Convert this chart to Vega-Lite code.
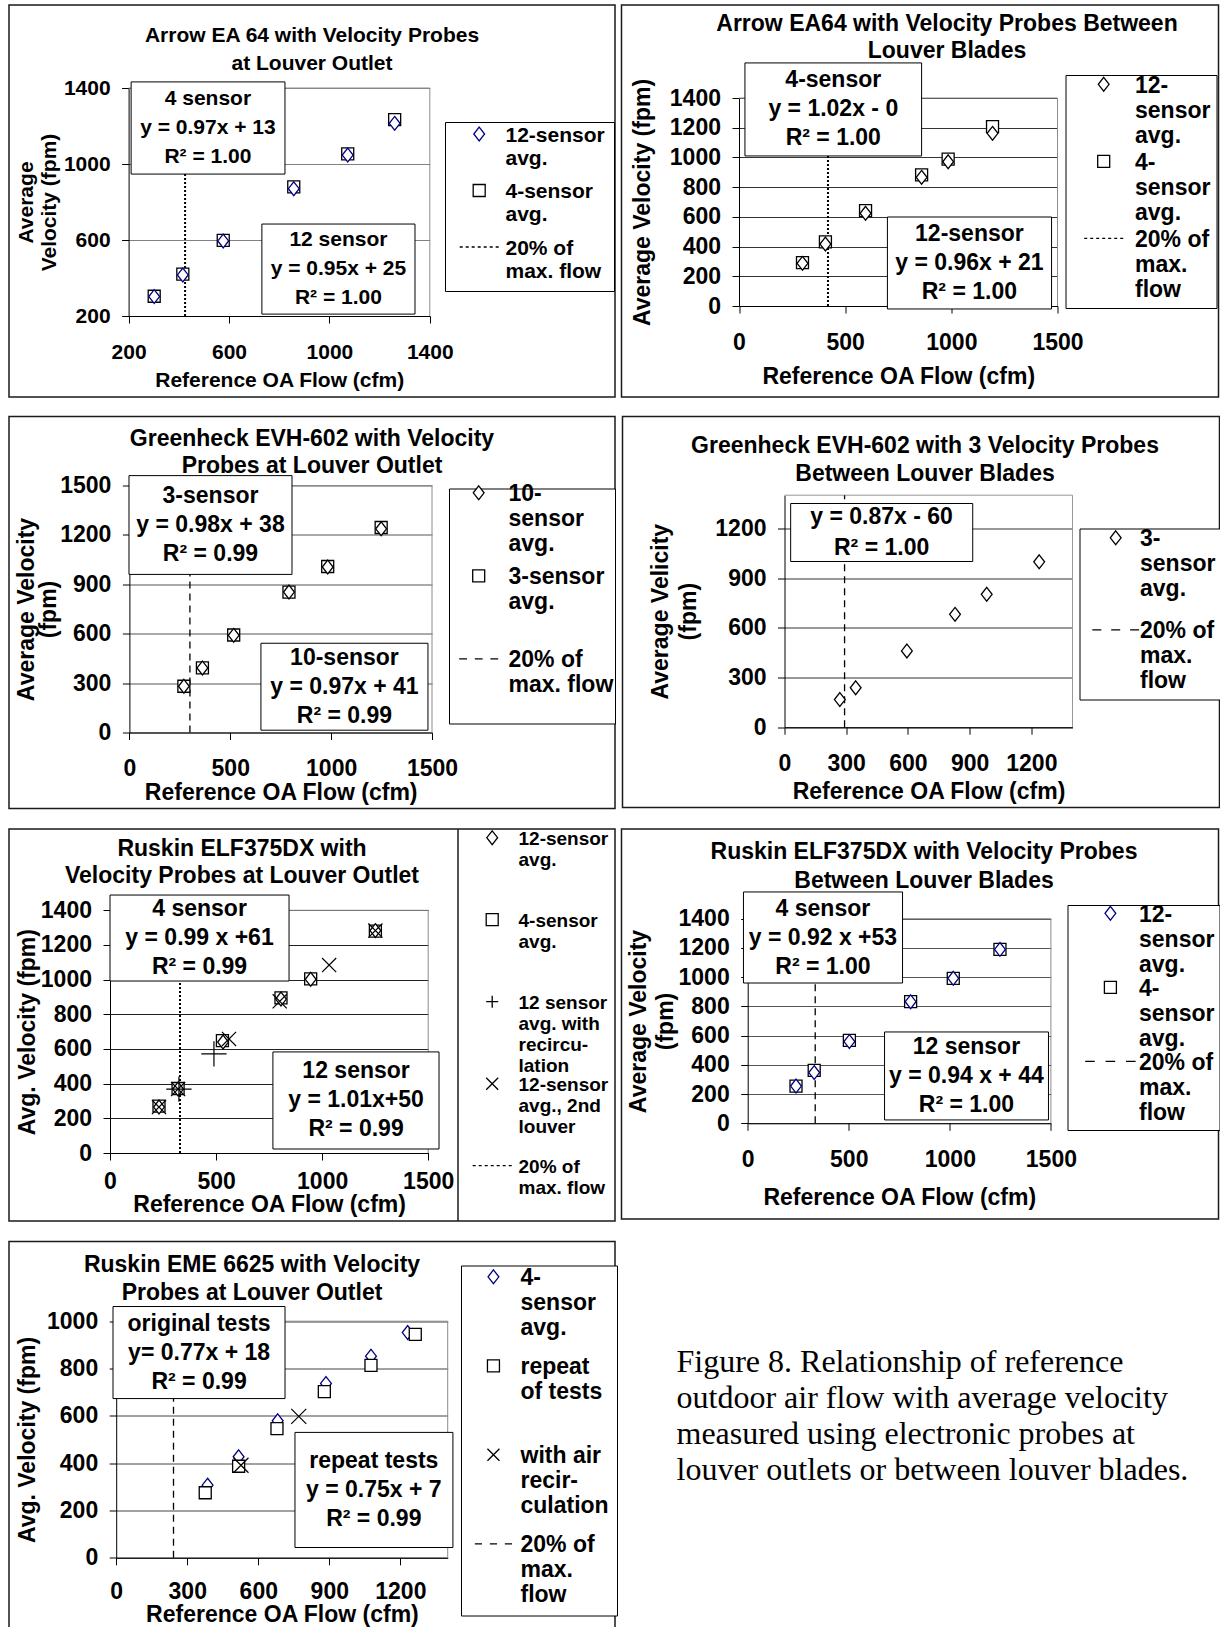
{
  "$schema": "https://vega.github.io/schema/vega-lite/v6.json",
  "padding": {"left": 8, "top": 4, "right": 0, "bottom": 0},
  "background": "white",
  "spacing": 17.5,
  "resolve": {"scale": {"shape": "independent", "color": "independent"}, "legend": {"shape": "independent", "color": "independent"}},
  "config": {
    "background": "white",
    "font": "Liberation Sans",
    "view": {"stroke": "#1a1a1a", "strokeWidth": 1.5},
    "title": {"font": "Liberation Sans", "fontSize": 23, "fontWeight": "bold", "color": "black", "anchor": "middle", "frame": "group", "baseline": "top", "lineHeight": 28},
    "axis": {"labelFont": "Liberation Sans", "labelFontSize": 23, "labelFontWeight": "bold", "labelColor": "black", "titleFont": "Liberation Sans", "titleFontSize": 23, "titleFontWeight": "bold", "titleColor": "black", "domainColor": "black", "domainWidth": 1, "tickColor": "black", "tickWidth": 1, "tickSize": 7, "labelFlush": false, "labelOverlap": false, "labelBound": false, "gridWidth": 1, "gridOpacity": 1, "format": "d"},
    "axisX": {"grid": false, "labelPadding": 18, "labelAngle": 0},
    "axisY": {"grid": true, "labelPadding": 11.5, "gridColor": "#555555"},
    "legend": {"labelFont": "Liberation Sans", "labelFontSize": 23, "labelFontWeight": "bold", "labelColor": "black", "labelLimit": 300, "labelBaseline": "alphabetic", "title": null, "orient": "none", "symbolSize": 144, "symbolStrokeWidth": 1.3, "symbolFillColor": "white"},
    "text": {"font": "Liberation Sans", "fontSize": 23, "fontWeight": "bold", "color": "black", "align": "center", "baseline": "middle", "lineHeight": 29},
    "point": {"filled": false, "fill": "white", "opacity": 1, "strokeWidth": 1.3, "size": 144}
  },
  "datasets": {
    "p1": [
      {"flow": 302, "velocity": 304, "series": "4-sensor avg."},
      {"flow": 416, "velocity": 420, "series": "4-sensor avg."},
      {"flow": 577, "velocity": 598, "series": "4-sensor avg."},
      {"flow": 858, "velocity": 880, "series": "4-sensor avg."},
      {"flow": 1073, "velocity": 1053, "series": "4-sensor avg."},
      {"flow": 1260, "velocity": 1234, "series": "4-sensor avg."},
      {"flow": 302, "velocity": 302, "series": "12-sensor avg."},
      {"flow": 416, "velocity": 416, "series": "12-sensor avg."},
      {"flow": 577, "velocity": 595, "series": "12-sensor avg."},
      {"flow": 858, "velocity": 870, "series": "12-sensor avg."},
      {"flow": 1073, "velocity": 1047, "series": "12-sensor avg."},
      {"flow": 1260, "velocity": 1214, "series": "12-sensor avg."},
      {"flow": 425, "series": "20% of max. flow"}
    ],
    "p2": [
      {"flow": 299, "velocity": 292, "series": "4-sensor avg."},
      {"flow": 407, "velocity": 432, "series": "4-sensor avg."},
      {"flow": 596, "velocity": 642, "series": "4-sensor avg."},
      {"flow": 860, "velocity": 882, "series": "4-sensor avg."},
      {"flow": 985, "velocity": 989, "series": "4-sensor avg."},
      {"flow": 1194, "velocity": 1207, "series": "4-sensor avg."},
      {"flow": 299, "velocity": 287, "series": "12-sensor avg."},
      {"flow": 407, "velocity": 417, "series": "12-sensor avg."},
      {"flow": 596, "velocity": 624, "series": "12-sensor avg."},
      {"flow": 860, "velocity": 866, "series": "12-sensor avg."},
      {"flow": 985, "velocity": 971, "series": "12-sensor avg."},
      {"flow": 1194, "velocity": 1162, "series": "12-sensor avg."},
      {"flow": 419, "series": "20% of max. flow"}
    ],
    "p3": [
      {"flow": 270, "velocity": 281, "series": "3-sensor avg."},
      {"flow": 362, "velocity": 392, "series": "3-sensor avg."},
      {"flow": 517, "velocity": 592, "series": "3-sensor avg."},
      {"flow": 791, "velocity": 853, "series": "3-sensor avg."},
      {"flow": 983, "velocity": 1008, "series": "3-sensor avg."},
      {"flow": 1248, "velocity": 1245, "series": "3-sensor avg."},
      {"flow": 270, "velocity": 281, "series": "10-sensor avg."},
      {"flow": 362, "velocity": 392, "series": "10-sensor avg."},
      {"flow": 517, "velocity": 590, "series": "10-sensor avg."},
      {"flow": 791, "velocity": 853, "series": "10-sensor avg."},
      {"flow": 983, "velocity": 1005, "series": "10-sensor avg."},
      {"flow": 1248, "velocity": 1237, "series": "10-sensor avg."},
      {"flow": 300, "series": "20% of max. flow"}
    ],
    "p4": [
      {"flow": 269, "velocity": 167, "series": "3-sensor avg."},
      {"flow": 346, "velocity": 238, "series": "3-sensor avg."},
      {"flow": 595, "velocity": 460, "series": "3-sensor avg."},
      {"flow": 829, "velocity": 681, "series": "3-sensor avg."},
      {"flow": 983, "velocity": 802, "series": "3-sensor avg."},
      {"flow": 1238, "velocity": 998, "series": "3-sensor avg."},
      {"flow": 292, "series": "20% of max. flow"}
    ],
    "p5": [
      {"flow": 231, "velocity": 270, "series": "4-sensor avg."},
      {"flow": 321, "velocity": 372, "series": "4-sensor avg."},
      {"flow": 530, "velocity": 648, "series": "4-sensor avg."},
      {"flow": 806, "velocity": 895, "series": "4-sensor avg."},
      {"flow": 946, "velocity": 1005, "series": "4-sensor avg."},
      {"flow": 1251, "velocity": 1280, "series": "4-sensor avg."},
      {"flow": 231, "velocity": 265, "series": "12-sensor avg."},
      {"flow": 321, "velocity": 369, "series": "12-sensor avg."},
      {"flow": 533, "velocity": 640, "series": "12-sensor avg."},
      {"flow": 806, "velocity": 888, "series": "12-sensor avg."},
      {"flow": 946, "velocity": 1002, "series": "12-sensor avg."},
      {"flow": 1251, "velocity": 1283, "series": "12-sensor avg."},
      {"flow": 231, "velocity": 265, "series": "12-sensor avg., 2nd louver"},
      {"flow": 321, "velocity": 369, "series": "12-sensor avg., 2nd louver"},
      {"flow": 561, "velocity": 658, "series": "12-sensor avg., 2nd louver"},
      {"flow": 800, "velocity": 875, "series": "12-sensor avg., 2nd louver"},
      {"flow": 1033, "velocity": 1084, "series": "12-sensor avg., 2nd louver"},
      {"flow": 1251, "velocity": 1283, "series": "12-sensor avg., 2nd louver"},
      {"flow": 325, "velocity": 369, "series": "12 sensor avg. with recirculation"},
      {"flow": 490, "velocity": 572, "series": "12 sensor avg. with recirculation"},
      {"flow": 330, "series": "20% of max. flow"}
    ],
    "p6": [
      {"flow": 239, "velocity": 255, "series": "4-sensor avg."},
      {"flow": 329, "velocity": 362, "series": "4-sensor avg."},
      {"flow": 503, "velocity": 568, "series": "4-sensor avg."},
      {"flow": 806, "velocity": 832, "series": "4-sensor avg."},
      {"flow": 1017, "velocity": 992, "series": "4-sensor avg."},
      {"flow": 1248, "velocity": 1190, "series": "4-sensor avg."},
      {"flow": 239, "velocity": 255, "series": "12-sensor avg."},
      {"flow": 329, "velocity": 347, "series": "12-sensor avg."},
      {"flow": 503, "velocity": 559, "series": "12-sensor avg."},
      {"flow": 806, "velocity": 832, "series": "12-sensor avg."},
      {"flow": 1017, "velocity": 992, "series": "12-sensor avg."},
      {"flow": 1248, "velocity": 1190, "series": "12-sensor avg."},
      {"flow": 334, "series": "20% of max. flow"}
    ],
    "p7": [
      {"flow": 386, "velocity": 307, "series": "4-sensor avg."},
      {"flow": 517, "velocity": 427, "series": "4-sensor avg."},
      {"flow": 682, "velocity": 579, "series": "4-sensor avg."},
      {"flow": 886, "velocity": 737, "series": "4-sensor avg."},
      {"flow": 1076, "velocity": 852, "series": "4-sensor avg."},
      {"flow": 1231, "velocity": 952, "series": "4-sensor avg."},
      {"flow": 376, "velocity": 275, "series": "repeat of tests"},
      {"flow": 517, "velocity": 387, "series": "repeat of tests"},
      {"flow": 679, "velocity": 546, "series": "repeat of tests"},
      {"flow": 879, "velocity": 702, "series": "repeat of tests"},
      {"flow": 1076, "velocity": 813, "series": "repeat of tests"},
      {"flow": 1263, "velocity": 944, "series": "repeat of tests"},
      {"flow": 527, "velocity": 391, "series": "with air recirculation"},
      {"flow": 771, "velocity": 598, "series": "with air recirculation"},
      {"flow": 242, "series": "20% of max. flow"}
    ]
  },
  "vconcat": [
    {
      "hconcat": [
        {
          "width": 606, "height": 392,
          "title": {"text": ["Arrow EA 64 with Velocity Probes", "at Louver Outlet"], "offset": -68.6, "lineHeight": 28, "fontSize": 21},
          "data": {"name": "p1"},
          "resolve": {"scale": {"shape": "independent", "color": "independent"}, "legend": {"shape": "independent", "color": "independent"}},
          "layer": [
            {"data": {"values": [{}]}, "mark": {"type": "rule", "color": "#8c8c8c", "strokeWidth": 1},
             "encoding": {
               "x": {"datum": 200, "type": "quantitative", "scale": {"domain": [200, 1400], "range": [119.6, 420.8], "nice": false, "zero": false}, "axis": {"values": [200, 600, 1000, 1400], "offset": -81, "title": "Reference OA Flow  (cfm)", "titlePadding": 7, "labelFontSize": 21, "titleFontSize": 21}},
               "x2": {"datum": 1400},
               "y": {"datum": 1400, "type": "quantitative", "scale": {"domain": [200, 1400], "range": [311, 83], "nice": false, "zero": false}, "axis": {"values": [200, 600, 1000, 1400], "offset": -119.6, "title": ["Average", "Velocity (fpm)"], "titleLineHeight": 23, "titlePadding": 4, "gridColor": "#808080", "labelFontSize": 21, "titleFontSize": 21}}
             }},
            {"data": {"values": [{}]}, "mark": {"type": "rule", "color": "#8c8c8c", "strokeWidth": 1},
             "encoding": {"x": {"datum": 1400, "type": "quantitative"}, "y": {"datum": 200, "type": "quantitative"}, "y2": {"datum": 1400}}},
            {"transform": [{"filter": "datum.series === '20% of max. flow'"}], "mark": {"type": "rule", "color": "black", "strokeWidth": 2, "strokeDash": [2, 2]},
             "encoding": {"x": {"field": "flow", "type": "quantitative"}, "y": {"datum": 200, "type": "quantitative"}, "y2": {"datum": 1400}}},
            {"data": {"values": [{}]}, "mark": {"type": "rect", "fill": "white", "stroke": "black", "strokeWidth": 1},
             "encoding": {"x": {"datum": 210, "type": "quantitative"}, "x2": {"datum": 823}, "y": {"datum": 947, "type": "quantitative"}, "y2": {"datum": 1432}}},
            {"data": {"values": [{}]}, "mark": {"type": "text", "dy": -29, "fontSize": 21},
             "encoding": {"x": {"datum": 516, "type": "quantitative"}, "y": {"datum": 1190, "type": "quantitative"}, "text": {"value": ["4 sensor", "y = 0.97x + 13", "R² = 1.00"]}}},
            {"data": {"values": [{}]}, "mark": {"type": "rect", "fill": "white", "stroke": "black", "strokeWidth": 1},
             "encoding": {"x": {"datum": 731, "type": "quantitative"}, "x2": {"datum": 1341}, "y": {"datum": 210, "type": "quantitative"}, "y2": {"datum": 684}}},
            {"data": {"values": [{}]}, "mark": {"type": "text", "dy": -29, "fontSize": 21},
             "encoding": {"x": {"datum": 1036, "type": "quantitative"}, "y": {"datum": 447, "type": "quantitative"}, "text": {"value": ["12 sensor", "y = 0.95x + 25", "R² = 1.00"]}}},
            {"transform": [{"filter": "datum.series !== '20% of max. flow'"}],
             "mark": {"type": "point"},
             "encoding": {
               "x": {"field": "flow", "type": "quantitative"},
               "y": {"field": "velocity", "type": "quantitative"},
               "shape": {"field": "series", "type": "nominal", "legend": null,
                 "scale": {"domain": ["12-sensor avg.", "4-sensor avg."], "range": ["M0,-1.15L0.9,0L0,1.15L-0.9,0Z", "M-1,-1H1V1H-1Z"]}},
               "color": {"field": "series", "type": "nominal", "legend": null,
                 "scale": {"domain": ["12-sensor avg.", "4-sensor avg."], "range": ["#000080", "black"]}}
             }},
            {"data": {"values": []}, "mark": {"type": "point"},
             "encoding": {
               "shape": {"field": "series", "type": "nominal",
                 "scale": {"domain": ["12-sensor avg.", "4-sensor avg.", "20% of max. flow"], "range": ["M0,-2.4L0.9,-1.25L0,-0.1L-0.9,-1.25Z", "M-1,-2.25H1V-0.25H-1Z", "M-3.25,-1.25H-2.75M-2.25,-1.25H-1.75M-1.25,-1.25H-0.75M-0.25,-1.25H0.25M0.75,-1.25H1.25M1.75,-1.25H2.25M2.75,-1.25H3.25"]},
                 "legend": {"legendX": 436, "legendY": 117, "padding": 9, "strokeColor": "black", "fillColor": "white", "symbolOffset": 14.7, "labelOffset": 15.8, "rowPadding": 11.5, "labelFontSize": 21,
                   "labelExpr": "datum.label == '12-sensor avg.' ? ['12-sensor','avg.'] : datum.label == '4-sensor avg.' ? ['4-sensor','avg.'] : ['20% of','max. flow']"}},
               "color": {"field": "series", "type": "nominal",
                 "scale": {"domain": ["12-sensor avg.", "4-sensor avg.", "20% of max. flow"], "range": ["#000080", "black", "black"]},
                 "legend": {"legendX": 436, "legendY": 117, "padding": 9, "strokeColor": "black", "fillColor": "white", "symbolOffset": 14.7, "labelOffset": 15.8, "rowPadding": 11.5, "labelFontSize": 21,
                   "labelExpr": "datum.label == '12-sensor avg.' ? ['12-sensor','avg.'] : datum.label == '4-sensor avg.' ? ['4-sensor','avg.'] : ['20% of','max. flow']"}}
             }}
          ]
        },
        {
          "width": 597, "height": 392,
          "title": {"text": ["Arrow EA64 with  Velocity Probes Between", "Louver Blades"], "offset": -57.6, "dx": 27, "lineHeight": 27},
          "data": {"name": "p2"},
          "resolve": {"scale": {"shape": "independent", "color": "independent"}, "legend": {"shape": "independent", "color": "independent"}},
          "layer": [
            {"data": {"values": [{}]}, "mark": {"type": "rule", "color": "#8c8c8c", "strokeWidth": 1},
             "encoding": {
               "x": {"datum": 0, "type": "quantitative", "scale": {"domain": [0, 1500], "range": [117.5, 436], "nice": false, "zero": false}, "axis": {"values": [0, 500, 1000, 1500], "offset": -91, "title": "Reference OA Flow (cfm)", "titlePadding": 11}},
               "x2": {"datum": 1500},
               "y": {"datum": 1400, "type": "quantitative", "scale": {"domain": [0, 1400], "range": [301, 93], "nice": false, "zero": false}, "axis": {"values": [0, 200, 400, 600, 800, 1000, 1200, 1400], "offset": -117.5, "title": "Average Velocity (fpm)", "titlePadding": 15, "gridColor": "#333333"}}
             }},
            {"data": {"values": [{}]}, "mark": {"type": "rule", "color": "#8c8c8c", "strokeWidth": 1},
             "encoding": {"x": {"datum": 1500, "type": "quantitative"}, "y": {"datum": 0, "type": "quantitative"}, "y2": {"datum": 1400}}},
            {"transform": [{"filter": "datum.series === '20% of max. flow'"}], "mark": {"type": "rule", "color": "black", "strokeWidth": 2, "strokeDash": [2, 2]},
             "encoding": {"x": {"field": "flow", "type": "quantitative"}, "y": {"datum": 0, "type": "quantitative"}, "y2": {"datum": 1400}}},
            {"data": {"values": [{}]}, "mark": {"type": "rect", "fill": "white", "stroke": "black", "strokeWidth": 1},
             "encoding": {"x": {"datum": 28, "type": "quantitative"}, "x2": {"datum": 860}, "y": {"datum": 1010, "type": "quantitative"}, "y2": {"datum": 1636}}},
            {"data": {"values": [{}]}, "mark": {"type": "text", "dy": -29},
             "encoding": {"x": {"datum": 444, "type": "quantitative"}, "y": {"datum": 1323, "type": "quantitative"}, "text": {"value": ["4-sensor", "y = 1.02x - 0", "R² = 1.00"]}}},
            {"data": {"values": [{}]}, "mark": {"type": "rect", "fill": "white", "stroke": "black", "strokeWidth": 1},
             "encoding": {"x": {"datum": 699, "type": "quantitative"}, "x2": {"datum": 1472}, "y": {"datum": -20, "type": "quantitative"}, "y2": {"datum": 599}}},
            {"data": {"values": [{}]}, "mark": {"type": "text", "dy": -29},
             "encoding": {"x": {"datum": 1085, "type": "quantitative"}, "y": {"datum": 290, "type": "quantitative"}, "text": {"value": ["12-sensor", "y = 0.96x + 21", "R² = 1.00"]}}},
            {"transform": [{"filter": "datum.series !== '20% of max. flow'"}],
             "mark": {"type": "point"},
             "encoding": {
               "x": {"field": "flow", "type": "quantitative"},
               "y": {"field": "velocity", "type": "quantitative"},
               "shape": {"field": "series", "type": "nominal", "legend": null,
                 "scale": {"domain": ["12-sensor avg.", "4-sensor avg."], "range": ["M0,-1.15L0.9,0L0,1.15L-0.9,0Z", "M-1,-1H1V1H-1Z"]}},
               "color": {"field": "series", "type": "nominal", "legend": null,
                 "scale": {"domain": ["12-sensor avg.", "4-sensor avg."], "range": ["black", "black"]}}
             }},
            {"data": {"values": []}, "mark": {"type": "point"},
             "encoding": {
               "shape": {"field": "series", "type": "nominal",
                 "scale": {"domain": ["12-sensor avg.", "4-sensor avg.", "20% of max. flow"], "range": ["M0,-2.52L0.9,-1.37L0,-0.22L-0.9,-1.37Z", "M-1,-2.37H1V-0.37H-1Z", "M-3.25,-1.37H-2.75M-2.25,-1.37H-1.75M-1.25,-1.37H-0.75M-0.25,-1.37H0.25M0.75,-1.37H1.25M1.75,-1.37H2.25M2.75,-1.37H3.25"]},
                 "legend": {"legendX": 444, "legendY": 70, "padding": 6, "strokeColor": "black", "fillColor": "white", "symbolOffset": 20.7, "labelOffset": 19.8, "rowPadding": 3,
                   "labelExpr": "datum.label == '12-sensor avg.' ? ['12-','sensor','avg.'] : datum.label == '4-sensor avg.' ? ['4-','sensor','avg.'] : ['20% of','max.','flow']"}},
               "color": {"field": "series", "type": "nominal",
                 "scale": {"domain": ["12-sensor avg.", "4-sensor avg.", "20% of max. flow"], "range": ["black", "black", "black"]},
                 "legend": {"legendX": 444, "legendY": 70, "padding": 6, "strokeColor": "black", "fillColor": "white", "symbolOffset": 20.7, "labelOffset": 19.8, "rowPadding": 3,
                   "labelExpr": "datum.label == '12-sensor avg.' ? ['12-','sensor','avg.'] : datum.label == '4-sensor avg.' ? ['4-','sensor','avg.'] : ['20% of','max.','flow']"}}
             }}
          ]
        }
      ],
      "spacing": 4.5,
      "resolve": {"scale": {"shape": "independent", "color": "independent"}, "legend": {"shape": "independent", "color": "independent"}}
    },
    {
      "hconcat": [
        {
          "width": 606, "height": 392,
          "title": {"text": ["Greenheck EVH-602 with Velocity", "Probes at Louver Outlet"], "offset": -61.6, "lineHeight": 27},
          "data": {"name": "p3"},
          "resolve": {"scale": {"shape": "independent", "color": "independent"}, "legend": {"shape": "independent", "color": "independent"}},
          "layer": [
            {"data": {"values": [{}]}, "mark": {"type": "rule", "color": "#8c8c8c", "strokeWidth": 1},
             "encoding": {
               "x": {"datum": 0, "type": "quantitative", "scale": {"domain": [0, 1500], "range": [120.4, 423], "nice": false, "zero": false}, "axis": {"values": [0, 500, 1000, 1500], "offset": -76, "title": "Reference OA Flow (cfm)", "titlePadding": 1}},
               "x2": {"datum": 1500},
               "y": {"datum": 1500, "type": "quantitative", "scale": {"domain": [0, 1500], "range": [316, 69], "nice": false, "zero": false}, "axis": {"values": [0, 300, 600, 900, 1200, 1500], "offset": -120.4, "title": ["Average Velocity", "(fpm)"], "titleLineHeight": 22, "titlePadding": -1, "gridColor": "#555555"}}
             }},
            {"data": {"values": [{}]}, "mark": {"type": "rule", "color": "#8c8c8c", "strokeWidth": 1},
             "encoding": {"x": {"datum": 1500, "type": "quantitative"}, "y": {"datum": 0, "type": "quantitative"}, "y2": {"datum": 1500}}},
            {"transform": [{"filter": "datum.series === '20% of max. flow'"}], "mark": {"type": "rule", "color": "black", "strokeWidth": 1.3, "strokeDash": [7, 5]},
             "encoding": {"x": {"field": "flow", "type": "quantitative"}, "y": {"datum": 0, "type": "quantitative"}, "y2": {"datum": 1500}}},
            {"data": {"values": [{}]}, "mark": {"type": "rect", "fill": "white", "stroke": "black", "strokeWidth": 1},
             "encoding": {"x": {"datum": -2, "type": "quantitative"}, "x2": {"datum": 806}, "y": {"datum": 960, "type": "quantitative"}, "y2": {"datum": 1560}}},
            {"data": {"values": [{}]}, "mark": {"type": "text", "dy": -29},
             "encoding": {"x": {"datum": 402, "type": "quantitative"}, "y": {"datum": 1260, "type": "quantitative"}, "text": {"value": ["3-sensor", "y = 0.98x + 38", "R² = 0.99"]}}},
            {"data": {"values": [{}]}, "mark": {"type": "rect", "fill": "white", "stroke": "black", "strokeWidth": 1},
             "encoding": {"x": {"datum": 652, "type": "quantitative"}, "x2": {"datum": 1480}, "y": {"datum": 14, "type": "quantitative"}, "y2": {"datum": 542}}},
            {"data": {"values": [{}]}, "mark": {"type": "text", "dy": -29},
             "encoding": {"x": {"datum": 1066, "type": "quantitative"}, "y": {"datum": 278, "type": "quantitative"}, "text": {"value": ["10-sensor", "y = 0.97x + 41", "R² = 0.99"]}}},
            {"transform": [{"filter": "datum.series !== '20% of max. flow'"}],
             "mark": {"type": "point"},
             "encoding": {
               "x": {"field": "flow", "type": "quantitative"},
               "y": {"field": "velocity", "type": "quantitative"},
               "shape": {"field": "series", "type": "nominal", "legend": null,
                 "scale": {"domain": ["10-sensor avg.", "3-sensor avg."], "range": ["M0,-1.15L0.9,0L0,1.15L-0.9,0Z", "M-1,-1H1V1H-1Z"]}},
               "color": {"field": "series", "type": "nominal", "legend": null,
                 "scale": {"domain": ["10-sensor avg.", "3-sensor avg."], "range": ["black", "black"]}}
             }},
            {"data": {"values": []}, "mark": {"type": "point"},
             "encoding": {
               "shape": {"field": "series", "type": "nominal",
                 "scale": {"domain": ["10-sensor avg.", "3-sensor avg.", "20% of max. flow"], "range": ["M0,-2.52L0.9,-1.37L0,-0.22L-0.9,-1.37Z", "M-1,-2.37H1V-0.37H-1Z", "M-3.25,-1.37H-1.95M-0.65,-1.37H0.65M1.95,-1.37H3.25"]},
                 "legend": {"legendX": 440, "legendY": 72, "padding": 1, "strokeColor": "black", "fillColor": "white", "symbolOffset": 17.2, "labelOffset": 18.3, "rowPadding": 9,
                   "labelExpr": "datum.label == '10-sensor avg.' ? ['10-','sensor','avg.'] : datum.label == '3-sensor avg.' ? ['3-sensor','avg.',''] : ['20% of','max. flow','']"}},
               "color": {"field": "series", "type": "nominal",
                 "scale": {"domain": ["10-sensor avg.", "3-sensor avg.", "20% of max. flow"], "range": ["black", "black", "black"]},
                 "legend": {"legendX": 440, "legendY": 72, "padding": 1, "strokeColor": "black", "fillColor": "white", "symbolOffset": 17.2, "labelOffset": 18.3, "rowPadding": 9,
                   "labelExpr": "datum.label == '10-sensor avg.' ? ['10-','sensor','avg.'] : datum.label == '3-sensor avg.' ? ['3-sensor','avg.',''] : ['20% of','max. flow','']"}}
             }}
          ]
        },
        {
          "width": 597, "height": 391,
          "title": {"text": ["Greenheck EVH-602 with 3 Velocity Probes", "Between Louver Blades"], "offset": -69.6, "dx": 4, "lineHeight": 28},
          "data": {"name": "p4"},
          "resolve": {"scale": {"shape": "independent", "color": "independent"}, "legend": {"shape": "independent", "color": "independent"}},
          "layer": [
            {"data": {"values": [{}]}, "mark": {"type": "rule", "color": "#999999", "strokeWidth": 1},
             "encoding": {
               "x": {"datum": 0, "type": "quantitative", "scale": {"domain": [0, 1400], "range": [162, 450], "nice": false, "zero": false}, "axis": {"values": [0, 300, 600, 900, 1200], "offset": -80.3, "title": "Reference OA Flow (cfm)", "titlePadding": 5}},
               "x2": {"datum": 1400},
               "y": {"datum": 1400, "type": "quantitative", "scale": {"domain": [0, 1400], "range": [310.7, 78.7], "nice": false, "zero": false}, "axis": {"values": [0, 300, 600, 900, 1200], "offset": -162, "title": ["Average Velicity", "(fpm)"], "titleLineHeight": 28, "titlePadding": 14, "gridColor": "#333333"}}
             }},
            {"data": {"values": [{}]}, "mark": {"type": "rule", "color": "#999999", "strokeWidth": 1},
             "encoding": {"x": {"datum": 1400, "type": "quantitative"}, "y": {"datum": 0, "type": "quantitative"}, "y2": {"datum": 1400}}},
            {"transform": [{"filter": "datum.series === '20% of max. flow'"}], "mark": {"type": "rule", "color": "black", "strokeWidth": 1.3, "strokeDash": [7, 5]},
             "encoding": {"x": {"field": "flow", "type": "quantitative"}, "y": {"datum": 0, "type": "quantitative"}, "y2": {"datum": 1400}}},
            {"data": {"values": [{}]}, "mark": {"type": "rect", "fill": "white", "stroke": "black", "strokeWidth": 1},
             "encoding": {"x": {"datum": 30, "type": "quantitative"}, "x2": {"datum": 915}, "y": {"datum": 1000, "type": "quantitative"}, "y2": {"datum": 1350}}},
            {"data": {"values": [{}]}, "mark": {"type": "text", "lineHeight": 31, "dy": -15.5},
             "encoding": {"x": {"datum": 472, "type": "quantitative"}, "y": {"datum": 1175, "type": "quantitative"}, "text": {"value": ["y = 0.87x - 60", "R² = 1.00"]}}},
            {"transform": [{"filter": "datum.series !== '20% of max. flow'"}],
             "mark": {"type": "point"},
             "encoding": {
               "x": {"field": "flow", "type": "quantitative"},
               "y": {"field": "velocity", "type": "quantitative"},
               "shape": {"field": "series", "type": "nominal", "legend": null,
                 "scale": {"domain": ["3-sensor avg."], "range": ["M0,-1.15L0.9,0L0,1.15L-0.9,0Z"]}},
               "color": {"field": "series", "type": "nominal", "legend": null,
                 "scale": {"domain": ["3-sensor avg."], "range": ["black"]}}
             }},
            {"data": {"values": []}, "mark": {"type": "point"},
             "encoding": {
               "shape": {"field": "series", "type": "nominal",
                 "scale": {"domain": ["3-sensor avg.", "20% of max. flow"], "range": ["M0,-2.52L0.9,-1.37L0,-0.22L-0.9,-1.37Z", "M-3.9,-1.37H-2.4M-0.75,-1.37H0.75M2.4,-1.37H3.9"]},
                 "legend": {"legendX": 457, "legendY": 112, "padding": 6, "strokeColor": "black", "fillColor": "white", "symbolOffset": 18.7, "labelOffset": 12.8, "rowPadding": 18,
                   "labelExpr": "datum.label == '3-sensor avg.' ? ['3-','sensor','avg.'] : ['20% of','max.','flow']"}},
               "color": {"field": "series", "type": "nominal",
                 "scale": {"domain": ["3-sensor avg.", "20% of max. flow"], "range": ["black", "black"]},
                 "legend": {"legendX": 457, "legendY": 112, "padding": 6, "strokeColor": "black", "fillColor": "white", "symbolOffset": 18.7, "labelOffset": 12.8, "rowPadding": 18,
                   "labelExpr": "datum.label == '3-sensor avg.' ? ['3-','sensor','avg.'] : ['20% of','max.','flow']"}}
             }}
          ]
        }
      ],
      "spacing": 4.5,
      "resolve": {"scale": {"shape": "independent", "color": "independent"}, "legend": {"shape": "independent", "color": "independent"}}
    },
    {
      "hconcat": [
        {
          "width": 606, "height": 392,
          "title": {"text": ["Ruskin ELF375DX with", "Velocity Probes at Louver Outlet"], "offset": -59.6, "dx": -70, "lineHeight": 27},
          "data": {"name": "p5"},
          "resolve": {"scale": {"shape": "independent", "color": "independent"}, "legend": {"shape": "independent", "color": "independent"}},
          "layer": [
            {"data": {"values": [{}]}, "mark": {"type": "rule", "color": "#8c8c8c", "strokeWidth": 1},
             "encoding": {
               "x": {"datum": 0, "type": "quantitative", "scale": {"domain": [0, 1500], "range": [101, 419.2], "nice": false, "zero": false}, "axis": {"values": [0, 500, 1000, 1500], "offset": -68, "labelPadding": 10, "title": "Reference OA Flow (cfm)", "titlePadding": 0}},
               "x2": {"datum": 1500},
               "y": {"datum": 1400, "type": "quantitative", "scale": {"domain": [0, 1400], "range": [324, 81.3], "nice": false, "zero": false}, "axis": {"values": [0, 200, 400, 600, 800, 1000, 1200, 1400], "offset": -101, "title": "Avg. Velocity (fpm)", "titlePadding": 1, "gridColor": "#222222"}}
             }},
            {"data": {"values": [{}]}, "mark": {"type": "rule", "color": "#8c8c8c", "strokeWidth": 1},
             "encoding": {"x": {"datum": 1500, "type": "quantitative"}, "y": {"datum": 0, "type": "quantitative"}, "y2": {"datum": 1400}}},
            {"data": {"values": [{}]}, "mark": {"type": "rule", "color": "#1a1a1a", "strokeWidth": 1.5},
             "encoding": {"x": {"datum": 1640.5, "type": "quantitative"}, "y": {"datum": -392, "type": "quantitative"}, "y2": {"datum": 1869}}},
            {"transform": [{"filter": "datum.series === '20% of max. flow'"}], "mark": {"type": "rule", "color": "black", "strokeWidth": 2, "strokeDash": [2, 2]},
             "encoding": {"x": {"field": "flow", "type": "quantitative"}, "y": {"datum": 0, "type": "quantitative"}, "y2": {"datum": 1400}}},
            {"data": {"values": [{}]}, "mark": {"type": "rect", "fill": "white", "stroke": "black", "strokeWidth": 1},
             "encoding": {"x": {"datum": 0, "type": "quantitative"}, "x2": {"datum": 844}, "y": {"datum": 992, "type": "quantitative"}, "y2": {"datum": 1488}}},
            {"data": {"values": [{}]}, "mark": {"type": "text", "dy": -29},
             "encoding": {"x": {"datum": 422, "type": "quantitative"}, "y": {"datum": 1240, "type": "quantitative"}, "text": {"value": ["4 sensor", "y = 0.99 x +61", "R² = 0.99"]}}},
            {"data": {"values": [{}]}, "mark": {"type": "rect", "fill": "white", "stroke": "black", "strokeWidth": 1},
             "encoding": {"x": {"datum": 768, "type": "quantitative"}, "x2": {"datum": 1551}, "y": {"datum": 23, "type": "quantitative"}, "y2": {"datum": 583}}},
            {"data": {"values": [{}]}, "mark": {"type": "text", "dy": -29},
             "encoding": {"x": {"datum": 1160, "type": "quantitative"}, "y": {"datum": 303, "type": "quantitative"}, "text": {"value": ["12 sensor", "y = 1.01x+50", "R² = 0.99"]}}},
            {"transform": [{"filter": "datum.series === '4-sensor avg.' || datum.series === '12-sensor avg.'"}],
             "mark": {"type": "point"},
             "encoding": {
               "x": {"field": "flow", "type": "quantitative"},
               "y": {"field": "velocity", "type": "quantitative"},
               "shape": {"field": "series", "type": "nominal", "legend": null,
                 "scale": {"domain": ["12-sensor avg.", "4-sensor avg."], "range": ["M0,-1.15L0.9,0L0,1.15L-0.9,0Z", "M-1,-1H1V1H-1Z"]}},
               "color": {"field": "series", "type": "nominal", "legend": null,
                 "scale": {"domain": ["12-sensor avg.", "4-sensor avg."], "range": ["black", "black"]}}
             }},
            {"transform": [{"filter": "datum.series === '12-sensor avg., 2nd louver'"}],
             "mark": {"type": "point", "strokeWidth": 1.2, "size": 200},
             "encoding": {
               "x": {"field": "flow", "type": "quantitative"},
               "y": {"field": "velocity", "type": "quantitative"},
               "shape": {"field": "series", "type": "nominal", "legend": null, "scale": {"domain": ["12-sensor avg., 2nd louver"], "range": ["M-1,-1L1,1M-1,1L1,-1"]}},
               "color": {"field": "series", "type": "nominal", "legend": null, "scale": {"domain": ["12-sensor avg., 2nd louver"], "range": ["black"]}}
             }},
            {"transform": [{"filter": "datum.series === '12 sensor avg. with recirculation'"}],
             "mark": {"type": "point", "strokeWidth": 1.2, "size": 640},
             "encoding": {
               "x": {"field": "flow", "type": "quantitative"},
               "y": {"field": "velocity", "type": "quantitative"},
               "shape": {"field": "series", "type": "nominal", "legend": null, "scale": {"domain": ["12 sensor avg. with recirculation"], "range": ["M-1,0H1M0,-1V1"]}},
               "color": {"field": "series", "type": "nominal", "legend": null, "scale": {"domain": ["12 sensor avg. with recirculation"], "range": ["black"]}}
             }},
            {"data": {"values": []}, "mark": {"type": "point"},
             "encoding": {
               "shape": {"field": "series", "type": "nominal",
                 "scale": {"domain": ["12-sensor avg.", "4-sensor avg.", "12 sensor avg. with recirculation", "12-sensor avg., 2nd louver", "20% of max. flow"], "range": ["M0,-2.28L0.9,-1.13L0,0.02L-0.9,-1.13Z", "M-1,-2.13H1V-0.13H-1Z", "M-1,-1.13H1M0,-2.13V-0.13", "M-1,-2.13L1,-0.13M-1,-0.13L1,-2.13", "M-3.25,-1.13H-2.75M-2.25,-1.13H-1.75M-1.25,-1.13H-0.75M-0.25,-1.13H0.25M0.75,-1.13H1.25M1.75,-1.13H2.25M2.75,-1.13H3.25"]},
                 "legend": {"legendX": 454, "legendY": 6, "padding": 0, "symbolOffset": 19.7, "labelOffset": 16.8, "rowPadding": -1, "labelFontSize": 19,
                   "labelExpr": "datum.label == '12-sensor avg.' ? ['12-sensor','avg.','',''] : datum.label == '4-sensor avg.' ? ['4-sensor','avg.','',''] : datum.label == '12 sensor avg. with recirculation' ? ['12 sensor','avg. with','recircu-','lation'] : datum.label == '12-sensor avg., 2nd louver' ? ['12-sensor','avg., 2nd','louver',''] : ['20% of','max. flow']"}},
               "color": {"field": "series", "type": "nominal",
                 "scale": {"domain": ["12-sensor avg.", "4-sensor avg.", "12 sensor avg. with recirculation", "12-sensor avg., 2nd louver", "20% of max. flow"], "range": ["black", "black", "black", "black", "black"]},
                 "legend": {"legendX": 454, "legendY": 6, "padding": 0, "symbolOffset": 19.7, "labelOffset": 16.8, "rowPadding": -1, "labelFontSize": 19,
                   "labelExpr": "datum.label == '12-sensor avg.' ? ['12-sensor','avg.','',''] : datum.label == '4-sensor avg.' ? ['4-sensor','avg.','',''] : datum.label == '12 sensor avg. with recirculation' ? ['12 sensor','avg. with','recircu-','lation'] : datum.label == '12-sensor avg., 2nd louver' ? ['12-sensor','avg., 2nd','louver',''] : ['20% of','max. flow']"}}
             }}
          ]
        },
        {
          "width": 597, "height": 390,
          "title": {"text": ["Ruskin ELF375DX with Velocity Probes", "Between Louver Blades"], "offset": -63.6, "dx": 4, "lineHeight": 29},
          "data": {"name": "p6"},
          "resolve": {"scale": {"shape": "independent", "color": "independent"}, "legend": {"shape": "independent", "color": "independent"}},
          "layer": [
            {"data": {"values": [{}]}, "mark": {"type": "rule", "color": "#8c8c8c", "strokeWidth": 1},
             "encoding": {
               "x": {"datum": 0, "type": "quantitative", "scale": {"domain": [0, 1500], "range": [126.2, 429.4], "nice": false, "zero": false}, "axis": {"values": [0, 500, 1000, 1500], "offset": -95.7, "title": "Reference OA Flow (cfm)", "titlePadding": 15}},
               "x2": {"datum": 1500},
               "y": {"datum": 1400, "type": "quantitative", "scale": {"domain": [0, 1400], "range": [294.3, 89.7], "nice": false, "zero": false}, "axis": {"values": [0, 200, 400, 600, 800, 1000, 1200, 1400], "offset": -126.2, "title": ["Average Velocity", "(fpm)"], "titleLineHeight": 27, "titlePadding": 1, "gridColor": "#555555"}}
             }},
            {"data": {"values": [{}]}, "mark": {"type": "rule", "color": "#8c8c8c", "strokeWidth": 1},
             "encoding": {"x": {"datum": 1500, "type": "quantitative"}, "y": {"datum": 0, "type": "quantitative"}, "y2": {"datum": 1400}}},
            {"transform": [{"filter": "datum.series === '20% of max. flow'"}], "mark": {"type": "rule", "color": "black", "strokeWidth": 1.3, "strokeDash": [7, 5]},
             "encoding": {"x": {"field": "flow", "type": "quantitative"}, "y": {"datum": 0, "type": "quantitative"}, "y2": {"datum": 1400}}},
            {"data": {"values": [{}]}, "mark": {"type": "rect", "fill": "white", "stroke": "black", "strokeWidth": 1},
             "encoding": {"x": {"datum": -21, "type": "quantitative"}, "x2": {"datum": 766}, "y": {"datum": 960, "type": "quantitative"}, "y2": {"datum": 1583}}},
            {"data": {"values": [{}]}, "mark": {"type": "text", "dy": -29},
             "encoding": {"x": {"datum": 372, "type": "quantitative"}, "y": {"datum": 1271, "type": "quantitative"}, "text": {"value": ["4 sensor", "y = 0.92 x +53", "R² = 1.00"]}}},
            {"data": {"values": [{}]}, "mark": {"type": "rect", "fill": "white", "stroke": "black", "strokeWidth": 1},
             "encoding": {"x": {"datum": 677, "type": "quantitative"}, "x2": {"datum": 1488}, "y": {"datum": 23, "type": "quantitative"}, "y2": {"datum": 625}}},
            {"data": {"values": [{}]}, "mark": {"type": "text", "dy": -29},
             "encoding": {"x": {"datum": 1082, "type": "quantitative"}, "y": {"datum": 324, "type": "quantitative"}, "text": {"value": ["12 sensor", "y = 0.94 x + 44", "R² = 1.00"]}}},
            {"transform": [{"filter": "datum.series !== '20% of max. flow'"}],
             "mark": {"type": "point"},
             "encoding": {
               "x": {"field": "flow", "type": "quantitative"},
               "y": {"field": "velocity", "type": "quantitative"},
               "shape": {"field": "series", "type": "nominal", "legend": null,
                 "scale": {"domain": ["12-sensor avg.", "4-sensor avg."], "range": ["M0,-1.15L0.9,0L0,1.15L-0.9,0Z", "M-1,-1H1V1H-1Z"]}},
               "color": {"field": "series", "type": "nominal", "legend": null,
                 "scale": {"domain": ["12-sensor avg.", "4-sensor avg."], "range": ["#000080", "black"]}}
             }},
            {"data": {"values": []}, "mark": {"type": "point"},
             "encoding": {
               "shape": {"field": "series", "type": "nominal",
                 "scale": {"domain": ["12-sensor avg.", "4-sensor avg.", "20% of max. flow"], "range": ["M0,-2.52L0.9,-1.37L0,-0.22L-0.9,-1.37Z", "M-1,-2.37H1V-0.37H-1Z", "M-4.2,-1.37H-2.6M-0.8,-1.37H0.8M2.6,-1.37H4.2"]},
                 "legend": {"legendX": 446, "legendY": 76, "padding": 5, "strokeColor": "black", "fillColor": "white", "symbolOffset": 26.4, "labelOffset": 17.1, "rowPadding": 0,
                   "labelExpr": "datum.label == '12-sensor avg.' ? ['12-','sensor','avg.'] : datum.label == '4-sensor avg.' ? ['4-','sensor','avg.'] : ['20% of','max.','flow']"}},
               "color": {"field": "series", "type": "nominal",
                 "scale": {"domain": ["12-sensor avg.", "4-sensor avg.", "20% of max. flow"], "range": ["#000080", "black", "black"]},
                 "legend": {"legendX": 446, "legendY": 76, "padding": 5, "strokeColor": "black", "fillColor": "white", "symbolOffset": 26.4, "labelOffset": 17.1, "rowPadding": 0,
                   "labelExpr": "datum.label == '12-sensor avg.' ? ['12-','sensor','avg.'] : datum.label == '4-sensor avg.' ? ['4-','sensor','avg.'] : ['20% of','max.','flow']"}}
             }}
          ]
        }
      ],
      "spacing": 4.5,
      "resolve": {"scale": {"shape": "independent", "color": "independent"}, "legend": {"shape": "independent", "color": "independent"}}
    },
    {
      "hconcat": [
        {
          "width": 606, "height": 387,
          "title": {"text": ["Ruskin EME 6625 with Velocity", "Probes at Louver Outlet"], "offset": -63.6, "dx": -60, "lineHeight": 28},
          "data": {"name": "p7"},
          "resolve": {"scale": {"shape": "independent", "color": "independent"}, "legend": {"shape": "independent", "color": "independent"}},
          "layer": [
            {"data": {"values": [{}]}, "mark": {"type": "rule", "color": "#8c8c8c", "strokeWidth": 1},
             "encoding": {
               "x": {"datum": 0, "type": "quantitative", "scale": {"domain": [0, 1400], "range": [107.2, 438.7], "nice": false, "zero": false}, "axis": {"values": [0, 300, 600, 900, 1200], "offset": -70.7, "labelPadding": 16, "title": "Reference OA Flow (cfm)", "titlePadding": 0}},
               "x2": {"datum": 1400},
               "y": {"datum": 1000, "type": "quantitative", "scale": {"domain": [0, 1000], "range": [316.3, 79.7], "nice": false, "zero": false}, "axis": {"values": [0, 200, 400, 600, 800, 1000], "offset": -107.2, "title": "Avg. Velocity (fpm)", "titlePadding": 7, "gridColor": "#444444"}}
             }},
            {"data": {"values": [{}]}, "mark": {"type": "rule", "color": "#8c8c8c", "strokeWidth": 1},
             "encoding": {"x": {"datum": 1400, "type": "quantitative"}, "y": {"datum": 0, "type": "quantitative"}, "y2": {"datum": 1000}}},
            {"transform": [{"filter": "datum.series === '20% of max. flow'"}], "mark": {"type": "rule", "color": "black", "strokeWidth": 1.3, "strokeDash": [7, 5]},
             "encoding": {"x": {"field": "flow", "type": "quantitative"}, "y": {"datum": 0, "type": "quantitative"}, "y2": {"datum": 1000}}},
            {"data": {"values": [{}]}, "mark": {"type": "rect", "fill": "white", "stroke": "black", "strokeWidth": 1},
             "encoding": {"x": {"datum": -13.5, "type": "quantitative"}, "x2": {"datum": 713}, "y": {"datum": 673, "type": "quantitative"}, "y2": {"datum": 1062}}},
            {"data": {"values": [{}]}, "mark": {"type": "text", "dy": -29},
             "encoding": {"x": {"datum": 350, "type": "quantitative"}, "y": {"datum": 867, "type": "quantitative"}, "text": {"value": ["original tests", "y= 0.77x + 18", "R² = 0.99"]}}},
            {"data": {"values": [{}]}, "mark": {"type": "rect", "fill": "white", "stroke": "black", "strokeWidth": 1},
             "encoding": {"x": {"datum": 755, "type": "quantitative"}, "x2": {"datum": 1422}, "y": {"datum": 43.5, "type": "quantitative"}, "y2": {"datum": 530}}},
            {"data": {"values": [{}]}, "mark": {"type": "text", "dy": -29},
             "encoding": {"x": {"datum": 1088, "type": "quantitative"}, "y": {"datum": 287, "type": "quantitative"}, "text": {"value": ["repeat tests", "y = 0.75x + 7", "R² = 0.99"]}}},
            {"transform": [{"filter": "datum.series === '4-sensor avg.' || datum.series === 'repeat of tests'"}],
             "mark": {"type": "point"},
             "encoding": {
               "x": {"field": "flow", "type": "quantitative"},
               "y": {"field": "velocity", "type": "quantitative"},
               "shape": {"field": "series", "type": "nominal", "legend": null,
                 "scale": {"domain": ["4-sensor avg.", "repeat of tests"], "range": ["M0,-1.15L0.9,0L0,1.15L-0.9,0Z", "M-1,-1H1V1H-1Z"]}},
               "color": {"field": "series", "type": "nominal", "legend": null,
                 "scale": {"domain": ["4-sensor avg.", "repeat of tests"], "range": ["#000080", "black"]}}
             }},
            {"transform": [{"filter": "datum.series === 'with air recirculation'"}],
             "mark": {"type": "point", "strokeWidth": 1.2, "size": 225},
             "encoding": {
               "x": {"field": "flow", "type": "quantitative"},
               "y": {"field": "velocity", "type": "quantitative"},
               "shape": {"field": "series", "type": "nominal", "legend": null, "scale": {"domain": ["with air recirculation"], "range": ["M-1,-1L1,1M-1,1L1,-1"]}},
               "color": {"field": "series", "type": "nominal", "legend": null, "scale": {"domain": ["with air recirculation"], "range": ["black"]}}
             }},
            {"data": {"values": []}, "mark": {"type": "point"},
             "encoding": {
               "shape": {"field": "series", "type": "nominal",
                 "scale": {"domain": ["4-sensor avg.", "repeat of tests", "with air recirculation", "20% of max. flow"], "range": ["M0,-2.52L0.9,-1.37L0,-0.22L-0.9,-1.37Z", "M-1,-2.37H1V-0.37H-1Z", "M-1,-2.37L1,-0.37M-1,-0.37L1,-2.37", "M-3.1,-1.37H-1.9M-0.6,-1.37H0.6M1.9,-1.37H3.1"]},
                 "legend": {"legendX": 452, "legendY": 24, "padding": 8, "strokeColor": "black", "fillColor": "white", "symbolOffset": 12.95, "labelOffset": 15.55, "rowPadding": 15,
                   "labelExpr": "datum.label == '4-sensor avg.' ? ['4-','sensor','avg.'] : datum.label == 'repeat of tests' ? ['repeat','of tests',''] : datum.label == 'with air recirculation' ? ['with air','recir-','culation'] : ['20% of','max.','flow']"}},
               "color": {"field": "series", "type": "nominal",
                 "scale": {"domain": ["4-sensor avg.", "repeat of tests", "with air recirculation", "20% of max. flow"], "range": ["#000080", "black", "black", "black"]},
                 "legend": {"legendX": 452, "legendY": 24, "padding": 8, "strokeColor": "black", "fillColor": "white", "symbolOffset": 12.95, "labelOffset": 15.55, "rowPadding": 15,
                   "labelExpr": "datum.label == '4-sensor avg.' ? ['4-','sensor','avg.'] : datum.label == 'repeat of tests' ? ['repeat','of tests',''] : datum.label == 'with air recirculation' ? ['with air','recir-','culation'] : ['20% of','max.','flow']"}}
             }}
          ]
        },
        {
          "width": 560, "height": 387,
          "view": {"stroke": null, "fill": "white"},
          "title": {"text": ["Figure 8. Relationship of reference", "outdoor air flow with average velocity", "measured using electronic probes at", "louver outlets or between louver blades."], "anchor": "start", "font": "Liberation Serif", "fontSize": 32, "fontWeight": "normal", "lineHeight": 36, "offset": -245, "dx": 53, "baseline": "top"},
          "data": {"values": []},
          "mark": "point",
          "encoding": {}
        }
      ],
      "spacing": 4.5,
      "resolve": {"scale": {"shape": "independent", "color": "independent"}, "legend": {"shape": "independent", "color": "independent"}}
    }
  ]
}
